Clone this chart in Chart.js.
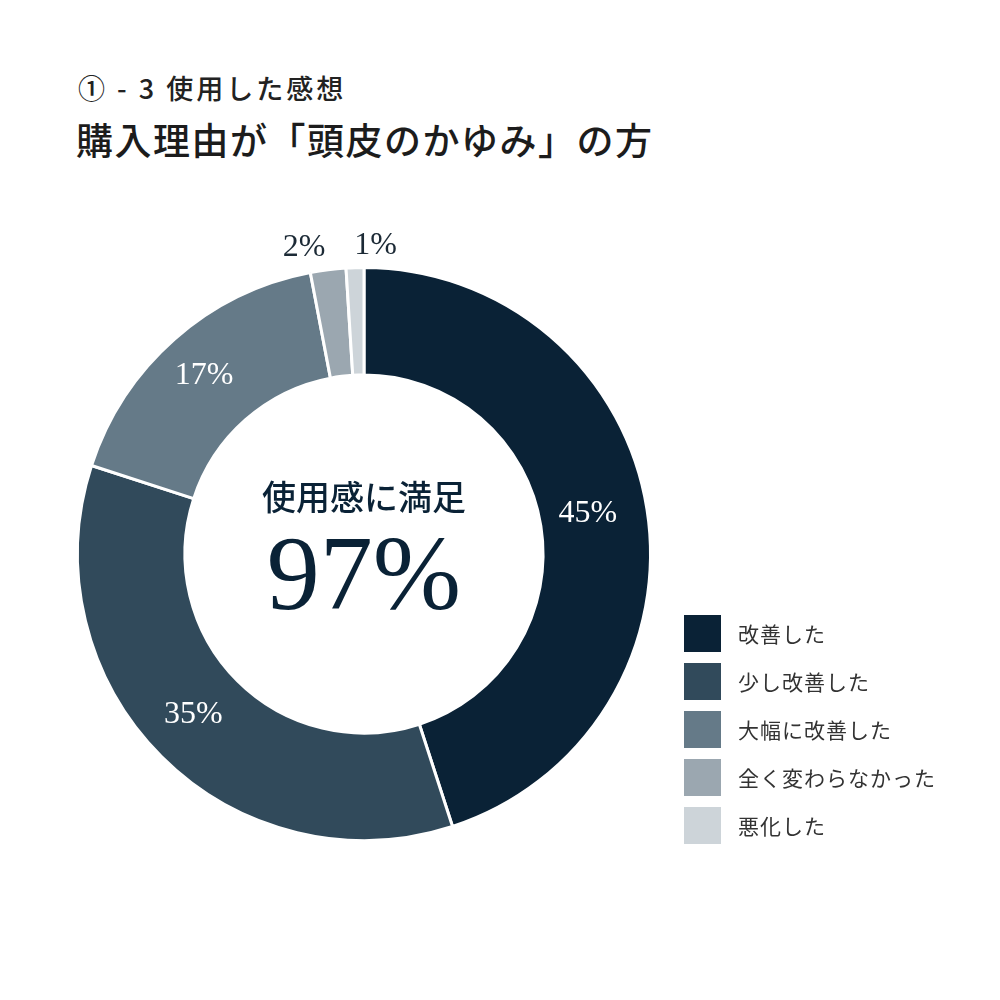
<!DOCTYPE html>
<html>
<head>
<meta charset="utf-8">
<script src="https://cdn.jsdelivr.net/npm/chart.js@4"></script>
<style>
    body { margin: 0; background: #fff; }
    .wrap { position: relative; width: 1000px; height: 1000px; }
    canvas { position: absolute; left: 0; top: 0; }
    .title1 { position: absolute; left: 78px; top: 68px; font: 500 27px "Noto Sans CJK JP", sans-serif; color: #222; letter-spacing: 3px; white-space: nowrap; }
    .title2 { position: absolute; left: 76px; top: 112px; font: 500 37px "Noto Sans CJK JP", sans-serif; color: #1c1c1c; letter-spacing: 1.5px; white-space: nowrap; }
    .legend { position: absolute; left: 684px; top: 614px; }
    .legend .item { display: flex; align-items: center; height: 38px; margin-bottom: 10px; }
    .legend .box { width: 37px; height: 37px; margin-right: 17px; }
    .legend span { font: 21px "Noto Sans CJK JP", serif; color: #333; letter-spacing: 1px; }
</style>
</head>
<body>
<div class="wrap">
    <div class="title1">① - 3 使用した感想</div>
    <div class="title2">購入理由が「頭皮のかゆみ」の方</div>
    <canvas id="donut" width="1000" height="1000"></canvas>
    <div class="legend" id="legend"></div>
</div>
<script>
const labels = ["改善した", "少し改善した", "大幅に改善した", "全く変わらなかった", "悪化した"]
const values = [45, 35, 17, 2, 1]
const colors = ["#0a2236", "#314a5b", "#657a88", "#9ba7b0", "#cdd4d9"]
const centerTitle = "使用感に満足"
const centerValue = "97%"

//legend
let legend = document.getElementById("legend")
labels.forEach((label, i) => {
    let item = document.createElement("div")
    item.classList.add("item")
    let box = document.createElement("div")
    box.classList.add("box")
    box.style.background = colors[i]
    let span = document.createElement("span")
    span.textContent = label
    item.appendChild(box)
    item.appendChild(span)
    legend.appendChild(item)
})

//labels + center text
let donutText = {
    id: "donutText",
    afterDraw(chart) {
        let ctx = chart.ctx
        let arcs = chart.getDatasetMeta(0).data
        ctx.save()
        ctx.textBaseline = "middle"
        arcs.forEach((arc, i) => {
            let mid = (arc.startAngle + arc.endAngle) / 2
            let pct = values[i] + "%"
            ctx.font = "32px 'Liberation Serif', serif"
            if (values[i] >= 5) {
                let r = (arc.innerRadius + arc.outerRadius) / 2
                ctx.fillStyle = "#fff"
                ctx.textAlign = "center"
                ctx.fillText(pct, arc.x + Math.cos(mid) * r - 6, arc.y + Math.sin(mid) * r - 4)
            } else {
                let r = arc.outerRadius + 22
                ctx.fillStyle = "#1c2a36"
                ctx.textAlign = i == values.length - 1 ? "left" : "right"
                ctx.fillText(pct, arc.x + Math.cos(mid) * r, arc.y + Math.sin(mid) * r)
            }
        })
        let cx = arcs[0].x
        let cy = arcs[0].y
        ctx.fillStyle = "#0a2236"
        ctx.textAlign = "center"
        ctx.textBaseline = "alphabetic"
        ctx.font = "500 34px 'Noto Sans CJK JP', serif"
        ctx.fillText(centerTitle, cx, cy - 44)
        ctx.font = "106px 'Liberation Serif', serif"
        ctx.fillText(centerValue, cx, cy + 55)
        ctx.restore()
    }
}

new Chart("donut", {
    type: "doughnut",
    data: {
        labels: labels,
        datasets: [{
            data: values,
            backgroundColor: colors,
            borderColor: "#fff",
            borderWidth: 3
        }]
    },
    options: {
        responsive: false,
        animation: false,
        cutout: "62.5%",
        layout: {
            padding: { left: 76, right: 348, top: 266, bottom: 158 }
        },
        plugins: {
            legend: { display: false },
            tooltip: { enabled: false }
        }
    },
    plugins: [donutText]
})
</script>
</body>
</html>
